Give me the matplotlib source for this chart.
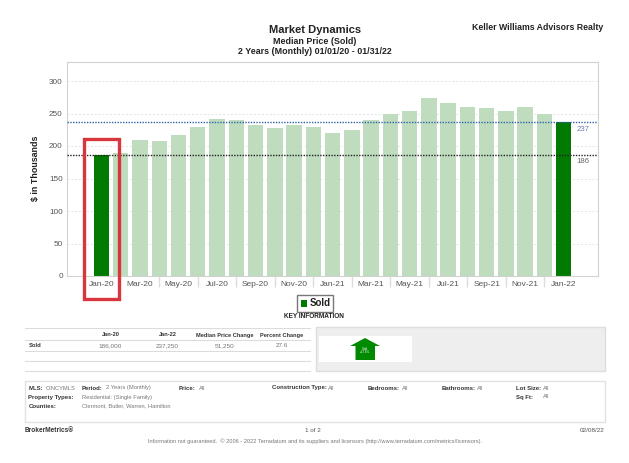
import matplotlib
matplotlib.use("Agg")
import matplotlib.pyplot as plt
from matplotlib.patches import Rectangle, Polygon

plt.rcParams["font.family"] = ["Liberation Sans", "DejaVu Sans"]

months = ["Jan-20", "Feb-20", "Mar-20", "Apr-20", "May-20", "Jun-20", "Jul-20", "Aug-20", "Sep-20",
          "Oct-20", "Nov-20", "Dec-20", "Jan-21", "Feb-21", "Mar-21", "Apr-21", "May-21", "Jun-21",
          "Jul-21", "Aug-21", "Sep-21", "Oct-21", "Nov-21", "Dec-21", "Jan-22"]
sold = [186, 189, 209, 208, 217, 229, 241, 240, 233, 227, 233, 230, 220, 225, 239.5, 250, 254, 274,
        266, 260, 258, 254.5, 260, 250, 237]
first_value = 186
last_value = 237
y_ticks = [0, 50, 100, 150, 200, 250, 300]

table_head = ["Jan-20", "Jan-22", "Median Price Change", "Percent Change"]
table_row = ["186,000", "237,250", "51,250", "27.6"]

W, H = 629, 463
fig = plt.figure(figsize=(W / 100, H / 100), dpi=100)

# page overlay in pixel coordinates, for everything around the chart
page = fig.add_axes([0, 0, 1, 1], zorder=3)
page.set_xlim(0, W)
page.set_ylim(H, 0)
page.axis("off")
page.patch.set_alpha(0)

# chart
left, right, top, bottom = 67, 598, 61.5, 276
ax = fig.add_axes([left / W, 1 - bottom / H, (right - left) / W, (bottom - top) / H])
colors = ["#007a00" if i in (0, len(sold) - 1) else "#bfdcbf" for i in range(len(sold))]
ax.bar(range(len(sold)), sold, width=0.8, color=colors, zorder=2)
ax.set_xlim(-1.79, 25.78)
ax.set_ylim(0, 330)
ax.set_yticks(y_ticks)
ax.set_xticks(range(0, len(months), 2))
ax.set_xticklabels(months[::2])
ax.set_xticks(range(3, len(months) - 1, 2), minor=True)
ax.tick_params(axis="x", which="major", length=0, pad=3.5, labelsize=6, labelcolor="#555555")
ax.tick_params(axis="x", which="minor", length=8, color="#dddddd", width=1)
ax.tick_params(axis="y", length=0, pad=3, labelsize=5.9, labelcolor="#555555")
ax.grid(axis="y", color="#e4e4e4", linestyle=(0, (2, 2)), linewidth=0.7, zorder=1)
ax.axhline(last_value, color="#2f62a8", linestyle=(0, (1, 1)), linewidth=1, zorder=3)
ax.axhline(first_value, color="#222222", linestyle=(0, (1, 1)), linewidth=1, zorder=3)
ax.set_ylabel("$ in Thousands", fontsize=6.4, fontweight="bold", color="#222222")
ax.yaxis.set_label_coords((40 - left) / (right - left), 0.5)
for s in ax.spines.values():
    s.set_color("#d2d2d2")
ax.text(25.0, last_value - 6, str(last_value), fontsize=5.6, color="#6f80b0", ha="center", va="top")
ax.text(25.0, first_value - 5, str(first_value), fontsize=5.6, color="#666666", ha="center", va="top")

# red highlight around the first bar
page.add_patch(Rectangle((84, 139), 34.5, 160, fill=False, edgecolor="#d8363c", linewidth=2.4))


def label(x, y, s, size=4.15, bold=False, color="#777777", ha="left"):
    page.text(x, y, s, fontsize=size, fontweight="bold" if bold else "normal", color=color, ha=ha, va="center")


# titles
label(315, 30, "Market Dynamics", 8, True, "#222222", "center")
label(315, 42, "Median Price (Sold)", 6.4, True, "#222222", "center")
label(315, 52, "2 Years (Monthly) 01/01/20 - 01/31/22", 6.4, True, "#222222", "center")
label(538, 28, "Keller Williams Advisors Realty", 6.35, True, "#222222", "center")

# legend
page.add_patch(Rectangle((297, 295), 36, 16.5, facecolor="white", edgecolor="#777777", linewidth=1))
page.add_patch(Rectangle((300.5, 300), 6, 6.5, facecolor="#007a00", edgecolor="none"))
label(310, 303, "Sold", 7, True, "#222222")
label(314, 316, "KEY INFORMATION", 4.7, True, "#222222", "center")

# key information table
for y in [327.5, 340, 350.5, 361, 370.5]:
    page.plot([25, 310], [y, y], color="#dcdcdc", linewidth=0.8)
for x, head, val in zip([110.5, 167.5, 224.5, 282], table_head, table_row):
    label(x, 335, head, 4.05, True, "#333333", "center")
    label(x, 345.5, val, 4.6, False, "#777777", "center")
label(28.5, 345.5, "Sold", 4.2, True, "#333333")

# arrow panel
page.add_patch(Rectangle((316, 327), 289, 44, facecolor="#eeeeee", edgecolor="#dddddd", linewidth=1))
page.add_patch(Rectangle((319, 336), 93, 26, facecolor="white", edgecolor="none"))
page.add_patch(Polygon([(350, 346), (365, 338), (380, 346), (375, 346), (375, 360), (355.5, 360), (355.5, 346)],
                       facecolor="#008a00", edgecolor="none"))
label(365, 349, "Sold", 2.2, False, "white", "center")
label(365, 352, "+27.6%", 2.2, False, "white", "center")

# filter box
page.add_patch(Rectangle((25, 381), 580, 40.5, facecolor="white", edgecolor="#e2e2e2", linewidth=1))
label(28.5, 388, "MLS:", 4.3, True, "#333333")
label(45.5, 388, "CINCYMLS")
label(81.5, 388, "Period:", 4.3, True, "#333333")
label(105.5, 388, "2 Years (Monthly)")
label(178.5, 388, "Price:", 4.3, True, "#333333")
label(199, 388, "All")
label(271.5, 388, "Construction Type:", 4.3, True, "#333333")
label(327.5, 388, "All")
label(368, 388, "Bedrooms:", 4.3, True, "#333333")
label(401.5, 388, "All")
label(442, 388, "Bathrooms:", 4.3, True, "#333333")
label(476.5, 388, "All")
label(516.5, 388, "Lot Size:", 4.3, True, "#333333")
label(543, 388, "All")
label(28.5, 397, "Property Types:", 4.3, True, "#333333")
label(81.5, 397, "Residential: (Single Family)")
label(516.5, 397, "Sq Ft:", 4.3, True, "#333333")
label(543, 397, "All")
label(28.5, 406, "Counties:", 4.3, True, "#333333")
label(81.5, 406, "Clermont, Butler, Warren, Hamilton")

# footer
label(25, 430, "BrokerMetrics\u00ae", 4.7, True, "#333333")
label(313, 430, "1 of 2", 4.5, False, "#555555", "center")
label(604, 430, "02/08/22", 4.6, False, "#555555", "right")
label(315, 441, "Information not guaranteed.  \u00a9 2006 - 2022 Terradatum and its suppliers and licensors (http://www.terradatum.com/metrics/licensors).",
      4.05, False, "#777777", "center")

fig.savefig("out.png", dpi=100, facecolor="white")
